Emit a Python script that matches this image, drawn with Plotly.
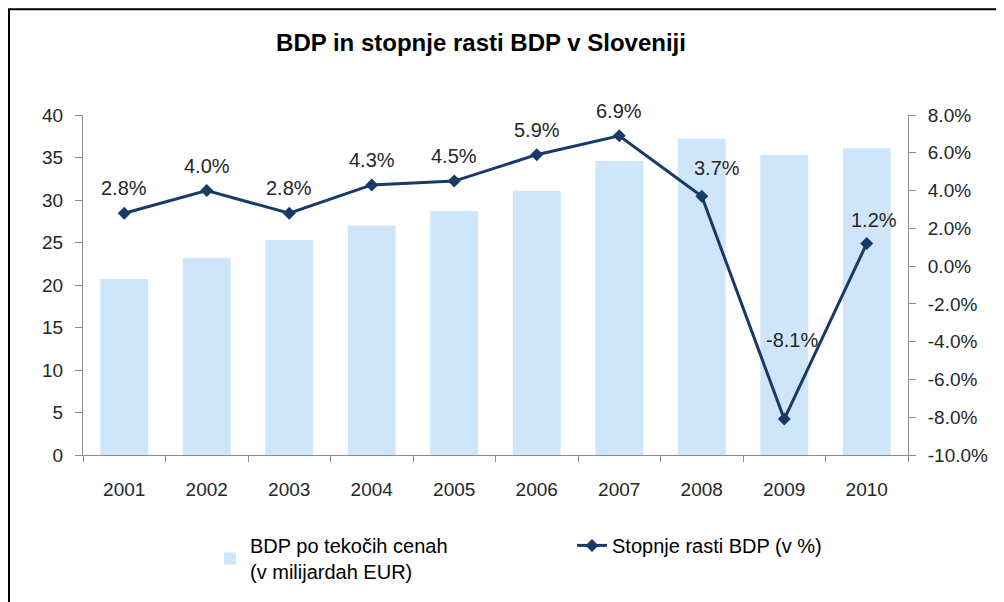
import plotly.graph_objects as go

years = ["2001", "2002", "2003", "2004", "2005", "2006", "2007", "2008", "2009", "2010"]
gdp_bn_eur = [20.7, 23.2, 25.3, 27.0, 28.7, 31.1, 34.6, 37.2, 35.3, 36.1]
growth_pct = [2.8, 4.0, 2.8, 4.3, 4.5, 5.9, 6.9, 3.7, -8.1, 1.2]
growth_labels = ["2.8%", "4.0%", "2.8%", "4.3%", "4.5%", "5.9%", "6.9%", "3.7%", "-8.1%", "1.2%"]

left_ticks = [0, 5, 10, 15, 20, 25, 30, 35, 40]
right_tickvals = [-10, -8, -6, -4, -2, 0, 2, 4, 6, 8]
right_ticktext = ["-10.0%", "-8.0%", "-6.0%", "-4.0%", "-2.0%", "0.0%", "2.0%", "4.0%", "6.0%", "8.0%"]

title_text = "BDP in stopnje rasti BDP v Sloveniji"
bar_name = "BDP po tekočih cenah<br>(v milijardah EUR)"
line_name = "Stopnje rasti BDP (v %)"

# label offsets in px (style, not data)
label_xshift = [0, 0, 0, 0, 0, 0, 0, 15, 8, 7]
label_yshift = [25, 25, 25, 25, 25, 25, 25, 28, 79, 23]

BAR_COLOR = "#CFE6FA"
LINE_COLOR = "#173B66"
AXIS_COLOR = "#8C8C8C"
TEXT_COLOR = "#262626"
FONT = "Liberation Sans, Arial, sans-serif"

W, H = 996, 594
ML, MR, MT, MB = 75, 96, 107, 146
PW, PH = W - ML - MR, H - MT - MB

fig = go.Figure()
fig.add_trace(go.Bar(
    x=years, y=gdp_bn_eur, name=bar_name,
    marker=dict(color=BAR_COLOR, line=dict(width=0)),
    yaxis="y",
))
fig.add_trace(go.Scatter(
    x=years, y=growth_pct, name=line_name, mode="lines+markers",
    line=dict(color=LINE_COLOR, width=3),
    marker=dict(symbol="diamond", size=10, color=LINE_COLOR),
    yaxis="y2",
))

for i, (v, t) in enumerate(zip(growth_pct, growth_labels)):
    fig.add_annotation(
        x=i, y=v, xref="x", yref="y2", text=t, showarrow=False,
        xshift=label_xshift[i], yshift=label_yshift[i],
        font=dict(family=FONT, size=20, color=TEXT_COLOR),
        xanchor="center", yanchor="middle",
    )

# outer border
fig.add_shape(type="rect", xref="paper", yref="paper",
              x0=(1 - ML) / PW, x1=(W + 10 - ML) / PW,
              y0=(H - MB - (H + 10)) / PH, y1=(H - MB - 1) / PH,
              line=dict(color="black", width=2), fillcolor="rgba(0,0,0,0)", layer="below")

fig.update_layout(
    width=W, height=H, autosize=False,
    margin=dict(l=ML, r=MR, t=MT, b=MB),
    paper_bgcolor="white", plot_bgcolor="white",
    bargap=0.42,
    title=dict(text="<b>" + title_text + "</b>", x=473 / W, xanchor="center",
               y=1 - 35 / H, yanchor="middle", xref="container", yref="container",
               font=dict(family=FONT, size=24, color="black")),
    xaxis=dict(type="category", range=[-0.5, 9.5], autorange=False, automargin=False,
               showline=True, linecolor=AXIS_COLOR, linewidth=1,
               ticks="outside", tickson="boundaries", ticklen=6, tickcolor=AXIS_COLOR,
               showgrid=False, tickfont=dict(family=FONT, size=19, color=TEXT_COLOR),
               tickangle=0, ticklabelstandoff=17),
    yaxis=dict(range=[0, 40], tickvals=left_ticks, showline=True, linecolor=AXIS_COLOR,
               automargin=False,
               ticks="outside", ticklen=7, tickcolor=AXIS_COLOR, showgrid=False, zeroline=False,
               tickfont=dict(family=FONT, size=19, color=TEXT_COLOR), ticklabelstandoff=8),
    yaxis2=dict(range=[-10, 8], tickvals=right_tickvals, ticktext=right_ticktext,
                overlaying="y", side="right", showline=True, linecolor=AXIS_COLOR,
                automargin=False,
                ticks="outside", ticklen=7, tickcolor=AXIS_COLOR, showgrid=False, zeroline=False,
                tickfont=dict(family=FONT, size=19, color=TEXT_COLOR), ticklabelstandoff=8),
    legend=dict(orientation="h", x=(202 - ML) / PW, xanchor="left", y=-0.205, yanchor="top",
                font=dict(family=FONT, size=20, color="black"), bgcolor="rgba(0,0,0,0)",
                entrywidth=317, traceorder="normal"),
    showlegend=True,
)

fig.write_html("out.html")
